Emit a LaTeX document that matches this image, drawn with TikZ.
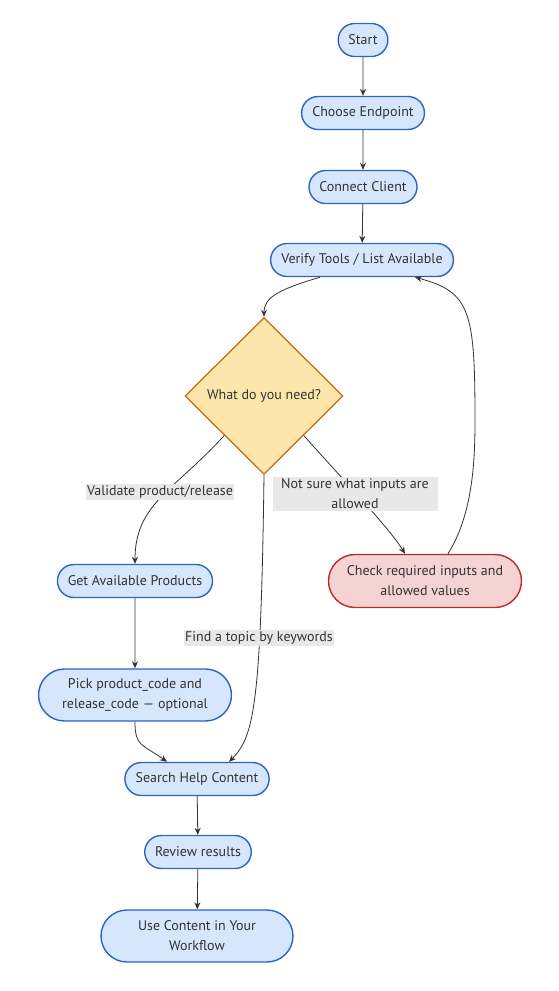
\documentclass[tikz,border=0pt]{standalone}
\usepackage{fontspec}
\setmainfont{PT Sans}
\usetikzlibrary{shapes.misc,shapes.geometric,arrows.meta}
\definecolor{bluefill}{RGB}{214,230,252}
\definecolor{bluedraw}{RGB}{47,99,192}
\definecolor{redfill}{RGB}{245,211,211}
\definecolor{reddraw}{RGB}{190,40,40}
\definecolor{decfill}{RGB}{253,230,172}
\definecolor{decdraw}{RGB}{196,120,42}
\definecolor{lblfill}{RGB}{232,232,232}
\definecolor{ink}{RGB}{51,51,51}
\begin{document}
\begin{tikzpicture}[
    x=1pt, y=-1pt,
    box/.style={rounded rectangle, draw=bluedraw, fill=bluefill, line width=1.4pt,
                minimum height=33pt, inner xsep=9.5pt, align=center, text=ink,
                font=\fontsize{14}{20}\selectfont},
    redbox/.style={box, draw=reddraw, fill=redfill},
    dec/.style={diamond, draw=decdraw, fill=decfill, line width=1.4pt,
                minimum width=158pt, minimum height=157pt, inner sep=0pt,
                text=ink, font=\fontsize{14}{20}\selectfont},
    arr/.style={-{Stealth[length=7pt,width=6pt]}, draw=ink, line width=0.8pt},
    lbl/.style={fill=lblfill, text=ink, align=center, inner xsep=1.5pt, inner ysep=2pt,
                font=\fontsize{14}{20}\selectfont}
  ]
    \useasboundingbox (0,0) rectangle (558,991);

    \node[box] (start)    at (363,40)  {Start};
    \node[box] (endpoint) at (363,113) {Choose Endpoint};
    \node[box] (client)   at (363,187) {Connect Client};
    \node[box] (verify)   at (362,260) {Verify Tools / List Available};
    \node[dec] (need)     at (264,396) {What do you need?};
    \node[box] (products) at (135,581) {Get Available Products};
    \node[box, minimum height=52pt, minimum width=212pt] (pick) at (135,695)
      {Pick product\_code and\\release\_code — optional};
    \node[redbox, minimum height=53pt, minimum width=212pt] (check) at (425,581)
      {Check required inputs and\\allowed values};
    \node[box] (search)   at (197,779) {Search Help Content};
    \node[box] (review)   at (198,852) {Review results};
    \node[box, minimum height=52pt, minimum width=211pt] (use) at (197,936)
      {Use Content in Your\\Workflow};

    \draw[arr] (start) -- (endpoint);
    \draw[arr] (endpoint) -- (client);
    \draw[arr] (client) -- (verify);
    \draw[arr] ([xshift=-42pt]verify.south) .. controls +(-40,12) and +(0,-20) .. (need.north);
    \draw[arr] (need.south west) .. controls +(-50,55) and +(0,-60) .. (products.north);
    \draw[arr] (need.south) .. controls +(-3,230) and +(25,-25) .. ([xshift=32pt]search.north);
    \draw[arr] (need.south east) .. controls +(40,45) and +(-15,-25) .. ([xshift=-20pt]check.north);
    \draw[arr] ([xshift=23pt]check.north) .. controls +(25,-40) and +(0,40) .. (475,420)
      .. controls +(0,-110) and +(55,15) .. ([xshift=53pt]verify.south);
    \draw[arr] (products) -- (pick);
    \draw[arr] (pick.south) .. controls +(0,25) and +(-25,-18) .. ([xshift=-30pt]search.north);
    \draw[arr] (search) -- (review);
    \draw[arr] (review) -- (use);

    \node[lbl] (lvalidate) at (160,492) {Validate product/release};
    \node[lbl, minimum width=165pt] (lnotsure) at (355,494) {Not sure what inputs are\\allowed};
    \node[lbl] (ltopic)    at (259,638) {Find a topic by keywords};
\end{tikzpicture}
\end{document}
